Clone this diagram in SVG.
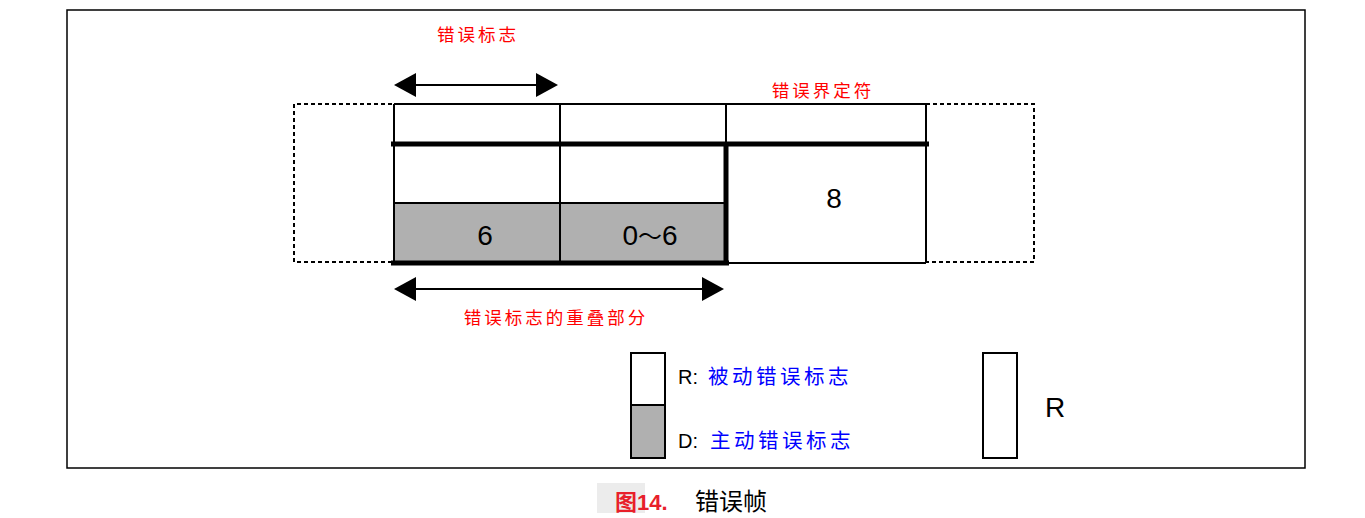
<svg xmlns="http://www.w3.org/2000/svg" width="1365" height="518" viewBox="0 0 1365 518">
<style>
.red{font-family:"Liberation Sans","Noto Sans CJK SC",sans-serif;font-size:17.5px;fill:#ff0000;letter-spacing:3px}
.num{font-family:"Liberation Sans",sans-serif;font-size:28px;fill:#000}
.leg{font-family:"Liberation Sans","Noto Sans CJK SC",sans-serif;font-size:20px;fill:#000}
.blue{fill:#0000ff;letter-spacing:3.5px;font-size:20.5px}
.thin{stroke:#000;stroke-width:2;fill:none}
.thick{stroke:#000;stroke-width:5;fill:none}
.dash{stroke:#000;stroke-width:2;fill:none;stroke-dasharray:4 3}
</style>
<defs>
<marker id="ah" viewBox="0 0 22 24" refX="20" refY="12" markerWidth="22" markerHeight="24" markerUnits="userSpaceOnUse" orient="auto-start-reverse">
<path d="M0,0 L22,12 L0,24 Z" fill="#000"/>
</marker>
</defs>
<rect width="1365" height="518" fill="#fff"/>
<rect x="67" y="10" width="1238" height="458" fill="none" stroke="#000" stroke-width="1.5"/>

<g id="left-dashed"><path class="dash" d="M392,104 H294 V262 H392"/></g>
<g id="right-dashed"><path class="dash" d="M926,104 H1034 V262 H926"/></g>

<g id="cell-flag1">
<rect x="394" y="203" width="166" height="60" fill="#b0b0b0"/>
<line class="thin" x1="394" y1="104" x2="394" y2="262"/>
<line class="thin" x1="394" y1="104" x2="560" y2="104"/>
<line class="thin" x1="394" y1="203" x2="560" y2="203"/>
<text class="num" x="485" y="245" text-anchor="middle">6</text>
</g>
<g id="cell-flag2">
<rect x="560" y="203" width="166" height="60" fill="#b0b0b0"/>
<line class="thin" x1="560" y1="104" x2="560" y2="262"/>
<line class="thin" x1="560" y1="104" x2="726" y2="104"/>
<line class="thin" x1="560" y1="203" x2="726" y2="203"/>
<text class="num" x="650" y="245" text-anchor="middle">0<tspan font-family="'Noto Sans CJK JP',sans-serif" font-size="24">〜</tspan>6</text>
</g>
<g id="cell-delim">
<line class="thin" x1="726" y1="104" x2="926" y2="104"/>
<line class="thin" x1="726" y1="104" x2="726" y2="144"/>
<line class="thin" x1="926" y1="104" x2="926" y2="263"/>
<line class="thin" x1="726" y1="263" x2="926" y2="263"/>
<text class="num" x="834" y="208" text-anchor="middle">8</text>
</g>
<g id="thick-lines">
<line class="thick" x1="391" y1="144" x2="929" y2="144"/>
<line class="thick" x1="391" y1="263" x2="729" y2="263"/>
<line class="thick" x1="726" y1="144" x2="726" y2="265"/>
</g>

<g id="connectors">
<line stroke="#000" stroke-width="2" x1="396" y1="85" x2="556" y2="85" marker-start="url(#ah)" marker-end="url(#ah)"/>
<line stroke="#000" stroke-width="2" x1="396" y1="289" x2="722" y2="289" marker-start="url(#ah)" marker-end="url(#ah)"/>
</g>

<g id="labels">
<text class="red" x="478" y="41" text-anchor="middle">错误标志</text>
<text class="red" x="823" y="97" text-anchor="middle">错误界定符</text>
<text class="red" x="556" y="324" text-anchor="middle">错误标志的重叠部分</text>
</g>

<g id="legend-rd">
<rect x="631" y="405" width="34" height="53" fill="#b0b0b0"/>
<rect x="631" y="353" width="34" height="105" fill="none" stroke="#000" stroke-width="2"/>
<line class="thin" x1="631" y1="405" x2="665" y2="405"/>
<text class="leg" x="678" y="384">R: <tspan class="blue" x="708">被动错误标志</tspan></text>
<text class="leg" x="678" y="448">D: <tspan class="blue" x="710">主动错误标志</tspan></text>
</g>
<g id="legend-r">
<rect x="983" y="353" width="34" height="105" fill="none" stroke="#000" stroke-width="2"/>
<text class="num" x="1045" y="417" font-size="25">R</text>
</g>

<g id="caption">
<rect x="597" y="483" width="48" height="30" fill="#ececec"/>
<text x="615" y="510" font-family="Liberation Sans,'Noto Sans CJK SC',sans-serif" font-size="22" font-weight="bold" fill="#e8202a">图14.</text>
<text x="695" y="510" font-family="Liberation Sans,'Noto Sans CJK SC',sans-serif" font-size="24" fill="#000">错误帧</text>
</g>
</svg>
